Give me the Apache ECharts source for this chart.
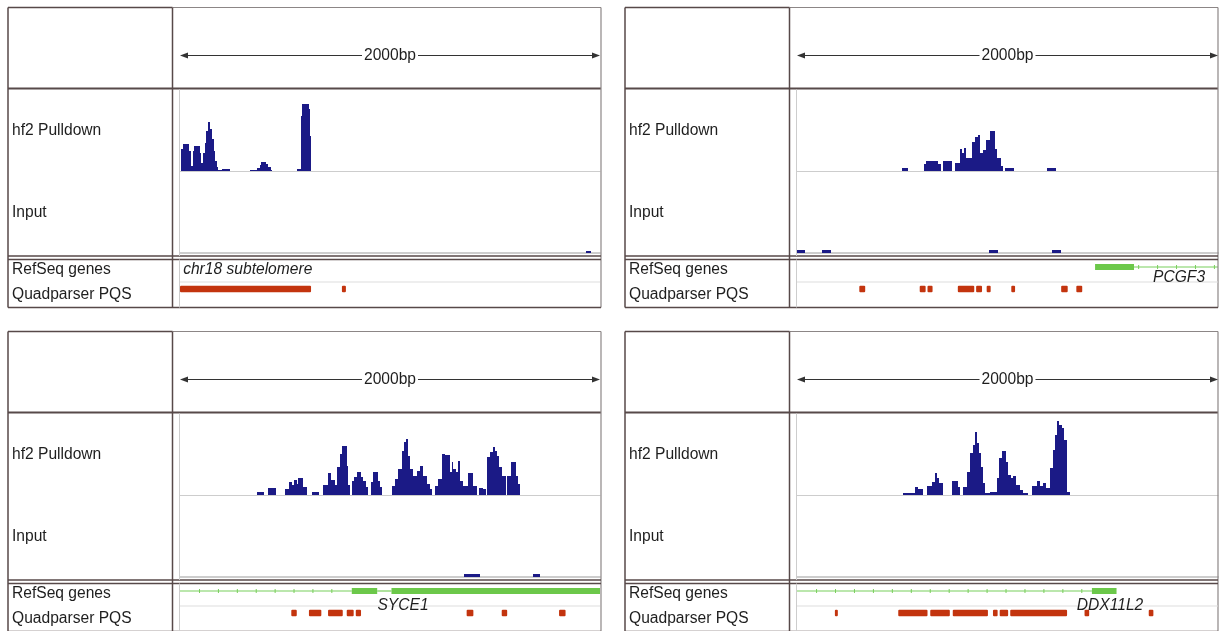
<!DOCTYPE html>
<html><head><meta charset="utf-8">
<script src="https://cdn.jsdelivr.net/npm/echarts/dist/echarts.min.js"></script>
<style>html,body{margin:0;padding:0;background:#fff}#chart{width:1220px;height:631px}</style>
</head><body><div id="chart"></div>
<script>
// ---------------- DATA ----------------
const REGION_BP = 2000;
const SCALE_LABEL = '2000bp';
const TRACK_NAMES = ['hf2 Pulldown', 'Input', 'RefSeq genes', 'Quadparser PQS'];

// coverage tracks: [startBp, endBp, value]
const P1_PULLDOWN = [[7,14,22],[14,45,27],[45,52,20],[52,60,5],[60,67,20],[67,93,25],[93,102,18],[102,110,8],
  [110,119,18],[119,126,28],[126,133,40],[133,145,49],[145,152,42],[152,160,32],[160,167,20],[167,174,10],[174,181,4],
  [181,200,1.5],[200,238,2.5],[333,367,1],[367,379,3],[379,388,6],[388,410,9],[410,421,7],[421,431,4],[431,438,1.5],
  [557,576,2],[576,583,55],[583,612,67],[612,619,62],[619,626,35]];
const P1_INPUT = [[1931,1959,2]];
const P1_PQS = [[0,624],[771,790]];
const P1_GENE_THICK = [];
const P1_GENE_THIN = [];
const P1_LABELS = [['chr18 subtelomere', 15]];

const P2_PULLDOWN = [[497,529,3.5],[603,615,7],[615,670,10],[670,686,7],[692,735,10],
  [751,774,8],[774,784,22],[784,793,18],[793,803,23],[803,829,13],[829,846,29],[846,858,34],[858,867,36],
  [867,884,18],[884,900,21],[900,917,31],[917,941,40],[941,952,22],[952,969,13],[969,979,5],
  [988,1031,3.5],[1188,1230,3.5]];
const P2_INPUT = [[0,37,3],[120,163,3],[911,953,3],[1212,1253,3]];
const P2_PQS = [[296,324],[583,611],[620,644],[764,842],[851,879],[901,920],[1018,1036],[1255,1286],[1327,1355]];
const P2_GENE_THICK = [[1416,1601]];
const P2_GENE_THIN = [[1601,2000]];
const P2_LABELS = [['PCGF3', 1815]];

const P3_PULLDOWN = [[365,400,3.3],[420,457,7],
  [500,520,6],[520,532,12.7],[532,543,10],[543,556,15],[556,563,11],[563,587,16.7],[587,606,7.7],
  [627,663,3.3],
  [680,706,10],[706,718,22],[718,738,15],[738,749,10],[749,762,27.7],[762,770,41],[770,794,48.7],[794,802,29],[802,810,10],
  [818,829,14],[829,841,17.7],[841,860,22.7],[860,873,17.7],[873,886,14],[886,897,7.7],
  [908,921,12.7],[921,941,22.7],[941,952,14],[952,964,7.7],
  [1008,1024,9.3],[1024,1040,16],[1040,1056,26],[1056,1067,44],[1067,1076,52.7],[1076,1087,56],[1087,1095,39],
  [1095,1111,26],[1111,1127,19],[1127,1143,24],[1143,1159,29],[1159,1175,19],[1175,1190,11],[1190,1198,6],
  [1214,1230,9.3],[1230,1246,16],[1246,1262,41],[1262,1286,40],[1286,1294,22.7],[1294,1302,32.7],[1302,1314,26],
  [1314,1325,22.7],[1325,1333,34],[1333,1349,14],[1349,1373,9.3],[1373,1393,22],[1393,1413,9.3],
  [1422,1444,6.7],[1444,1457,6],[1460,1476,37.7],[1476,1489,42.7],[1489,1500,47.7],[1500,1511,44],[1511,1521,39],
  [1521,1532,27.7],[1532,1552,19],[1559,1575,19],[1575,1600,33],[1600,1611,19],[1611,1619,11]];
const P3_INPUT = [[1350,1428,3],[1679,1716,3]];
const P3_PQS = [[530,556],[614,673],[705,775],[794,827],[837,862],[1365,1397],[1532,1558],[1805,1836]];
const P3_GENE_THICK = [[818,939],[1007,2000]];
const P3_GENE_THIN = [[0,818],[939,1007]];
const P3_LABELS = [['SYCE1', 1062]];

const P4_PULLDOWN = [[503,561,2.3],[561,576,8.3],[576,600,6],
  [619,640,9.3],[640,656,13.3],[656,667,21.7],[667,676,16.7],[676,692,11.7],
  [735,766,14],[766,774,8.3],
  [790,809,8.3],[809,822,23.3],[822,835,41.7],[835,846,50],[846,857,62.7],[857,863,51.7],[863,873,41.7],[873,882,28.3],
  [882,893,11.7],[893,917,1.7],[917,949,3.3],[949,961,16.7],[961,973,36.7],[973,993,44],[993,1004,33.3],[1004,1015,20],
  [1015,1028,16.7],[1028,1040,19],[1040,1059,10],[1059,1075,5],[1075,1099,1.7],
  [1115,1139,9.3],[1139,1154,14],[1154,1167,9.3],[1167,1183,11.7],[1183,1202,6.7],[1202,1215,26.7],[1215,1226,45],
  [1226,1237,60],[1237,1246,74],[1246,1258,70],[1258,1268,66.7],[1268,1281,55],[1281,1297,3.3]];
const P4_INPUT = [];
const P4_PQS = [[180,194],[481,620],[633,726],[740,907],[931,953],[963,1003],[1013,1283],[1366,1388],[1671,1693]];
const P4_GENE_THICK = [[1401,1518]];
const P4_GENE_THIN = [[0,1401]];
const P4_LABELS = [['DDX11L2', 1487]];

// ---------------- LAYOUT / STYLE ----------------
const PANELS = [
  {ox:0,   oy:0,   W:420, pull:P1_PULLDOWN, input:P1_INPUT, pqs:P1_PQS, thick:P1_GENE_THICK, thin:P1_GENE_THIN, labels:P1_LABELS, labelAlign:'left', labelDy:3},
  {ox:617, oy:0,   W:421, pull:P2_PULLDOWN, input:P2_INPUT, pqs:P2_PQS, thick:P2_GENE_THICK, thin:P2_GENE_THIN, labels:P2_LABELS, labelAlign:'center', labelDy:11},
  {ox:0,   oy:324, W:420, pull:P3_PULLDOWN, input:P3_INPUT, pqs:P3_PQS, thick:P3_GENE_THICK, thin:P3_GENE_THIN, labels:P3_LABELS, labelAlign:'center', labelDy:15},
  {ox:617, oy:324, W:421, pull:P4_PULLDOWN, input:P4_INPUT, pqs:P4_PQS, thick:P4_GENE_THICK, thin:P4_GENE_THIN, labels:P4_LABELS, labelAlign:'center', labelDy:15}
];
const NAVY = '#1b1a86', RED = '#c3340e', GREEN = '#6cc84a', GREEN_THIN = '#79cf5c';
const DARK = '#574949', MID = '#8c8686', LIGHT = '#cdcdcd', TEXT = '#1e1e1e';
const FONT = '15.6px "Liberation Sans", Arial, sans-serif';
const IFONT = 'italic 15.6px "Liberation Sans", Arial, sans-serif';
const TRACK_MAX = 81;

// coverage segment -> rect snapped to whole pixels (no seams between neighbours)
function covRender(params, api){
  const s = api.value(0), e = api.value(1), v = api.value(2);
  const a = api.coord([s, 0]), b = api.coord([e, v]);
  const x0 = Math.round(a[0]), x1 = Math.max(Math.round(b[0]), x0 + 1);
  const yb = Math.round(a[1]), yt = Math.min(Math.round(b[1]), yb - 1);
  return {type:'rect', shape:{x:x0, y:yt, width:x1 - x0, height:yb - yt}, style:{fill:NAVY}};
}
function blockRender(color, h, r){
  return function(params, api){
    const s = api.value(0), e = api.value(1), row = api.value(2);
    const a = api.coord([s, row]), b = api.coord([e, row]);
    return {type:'rect', shape:{x:a[0], y:a[1]-h/2, width:Math.max(b[0]-a[0], 2), height:h, r:r}, style:{fill:color}};
  };
}
function thinRender(params, api){
  const s = api.value(0), e = api.value(1), row = api.value(2);
  const a = api.coord([s, row]), b = api.coord([e, row]);
  const ch = [{type:'line', shape:{x1:a[0], y1:a[1], x2:b[0], y2:b[1]}, style:{stroke:GREEN_THIN, lineWidth:1.2}}];
  const step = 90, phase = 93;
  for (let t = phase; t < REGION_BP; t += step) {
    if (t < s + 15 || t > e - 15) continue;
    const p = api.coord([t, row]);
    ch.push({type:'line', shape:{x1:p[0], y1:p[1]-2, x2:p[0], y2:p[1]+2}, style:{stroke:GREEN_THIN, lineWidth:1}});
  }
  return {type:'group', children:ch};
}

const grid = [], xAxis = [], yAxis = [], series = [], graphic = [];
function hline(x1, x2, y, c, w){ graphic.push({type:'line', shape:{x1, y1:y, x2, y2:y}, style:{stroke:c, lineWidth:w}, z:5}); }
function vline(x, y1, y2, c, w){ graphic.push({type:'line', shape:{x1:x, y1, x2:x, y2}, style:{stroke:c, lineWidth:w}, z:5}); }
function txt(x, y, t){ graphic.push({type:'text', x, y, style:{text:t, font:FONT, fill:TEXT, verticalAlign:'middle', align:'left'}, z:6}); }

PANELS.forEach((P, i) => {
  const ox = P.ox, oy = P.oy, L = 180 + ox, W = P.W, R = 601 + ox;
  grid.push({left:L, top:90+oy, width:W, height:TRACK_MAX});
  grid.push({left:L, top:172+oy, width:W, height:TRACK_MAX});
  grid.push({left:L, top:256+oy, width:W, height:44});
  for (let k = 0; k < 3; k++) {
    const gi = i*3 + k;
    xAxis.push({type:'value', gridIndex:gi, min:0, max:REGION_BP, show:k<2,
      axisLine:{show:k<2, lineStyle:{color:LIGHT, width:k===1?2:1}}, axisTick:{show:false}, axisLabel:{show:false}, splitLine:{show:false}});
    if (k < 2) yAxis.push({type:'value', gridIndex:gi, min:0, max:TRACK_MAX, show:false});
    else yAxis.push({type:'category', gridIndex:gi, data:TRACK_NAMES.slice(2), inverse:true, show:false});
  }
  const g0 = i*3;
  series.push({type:'custom', name:TRACK_NAMES[0], xAxisIndex:g0, yAxisIndex:g0, renderItem:covRender, encode:{x:[0,1], y:2}, data:P.pull, clip:true, silent:true});
  series.push({type:'custom', name:TRACK_NAMES[1], xAxisIndex:g0+1, yAxisIndex:g0+1, renderItem:covRender, encode:{x:[0,1], y:2}, data:P.input, clip:true, silent:true});
  series.push({type:'custom', name:TRACK_NAMES[2], xAxisIndex:g0+2, yAxisIndex:g0+2, renderItem:thinRender, encode:{x:[0,1], y:2}, data:P.thin.map(d => [d[0], d[1], 0]), clip:true, silent:true});
  series.push({type:'custom', name:TRACK_NAMES[2]+' exons', xAxisIndex:g0+2, yAxisIndex:g0+2, renderItem:blockRender(GREEN, 6, 0), encode:{x:[0,1], y:2}, data:P.thick.map(d => [d[0], d[1], 0]), clip:true, silent:true});
  series.push({type:'custom', name:TRACK_NAMES[3], xAxisIndex:g0+2, yAxisIndex:g0+2, renderItem:blockRender(RED, 6.5, 1), encode:{x:[0,1], y:2}, data:P.pqs.map(d => [d[0], d[1], 1]), clip:true, silent:true});
  const labs = P.labels;
  series.push({type:'custom', name:'gene labels', xAxisIndex:g0+2, yAxisIndex:g0+2, encode:{x:0, y:1}, data:labs.map(d => [d[1], 0]), silent:true, z:10,
    renderItem:(params, api) => {
      const p = api.coord([api.value(0), 0]);
      return {type:'text', x:p[0], y:p[1] + P.labelDy, style:{text:labs[params.dataIndex][0], font:IFONT, fill:TEXT, align:P.labelAlign, verticalAlign:'middle'}};
    }});

  const T = 7.5 + oy, HB = 88.5 + oy, DB = 256 + oy, GT = 259.5 + oy, GB = 307.5 + oy;
  const lx = 8 + ox, dx = 172.5 + ox;
  hline(lx, dx, T, DARK, 1.5);
  hline(dx, R, T, MID, 1.2);
  vline(lx, T, GB, DARK, 1.5);
  vline(dx, T, GB, DARK, 1.5);
  hline(lx, R, HB, DARK, 2.2);
  vline(R, T, GB, MID, 1.2);
  hline(lx, R, DB, DARK, 1.5);
  hline(lx, R, GT, DARK, 1.5);
  hline(lx, R, GB, DARK, 1.5);
  vline(L - 0.5, HB + 1, DB, LIGHT, 1);
  vline(L - 0.5, GT, GB, LIGHT, 1);
  hline(L, L + W, 282 + oy, '#dddddd', 1);
  txt(12 + ox, 130.5 + oy, TRACK_NAMES[0]);
  txt(12 + ox, 212.5 + oy, TRACK_NAMES[1]);
  txt(12 + ox, 270 + oy, TRACK_NAMES[2]);
  txt(12 + ox, 294.5 + oy, TRACK_NAMES[3]);
  const ay = 55.5 + oy, cx = L + W/2;
  hline(L + 2, cx - 28, ay, '#333', 1);
  hline(cx + 28, L + W - 2, ay, '#333', 1);
  graphic.push({type:'polygon', shape:{points:[[L, ay], [L+8, ay-3], [L+8, ay+3]]}, style:{fill:'#333'}, z:5});
  graphic.push({type:'polygon', shape:{points:[[L+W, ay], [L+W-8, ay-3], [L+W-8, ay+3]]}, style:{fill:'#333'}, z:5});
  graphic.push({type:'text', x:cx, y:ay, style:{text:SCALE_LABEL, font:FONT, fill:TEXT, align:'center', verticalAlign:'middle'}, z:6});
});

const chart = echarts.init(document.getElementById('chart'), null, {renderer:'canvas'});
chart.setOption({animation:false, backgroundColor:'#fff', grid, xAxis, yAxis, series, graphic});
</script>
</body></html>
